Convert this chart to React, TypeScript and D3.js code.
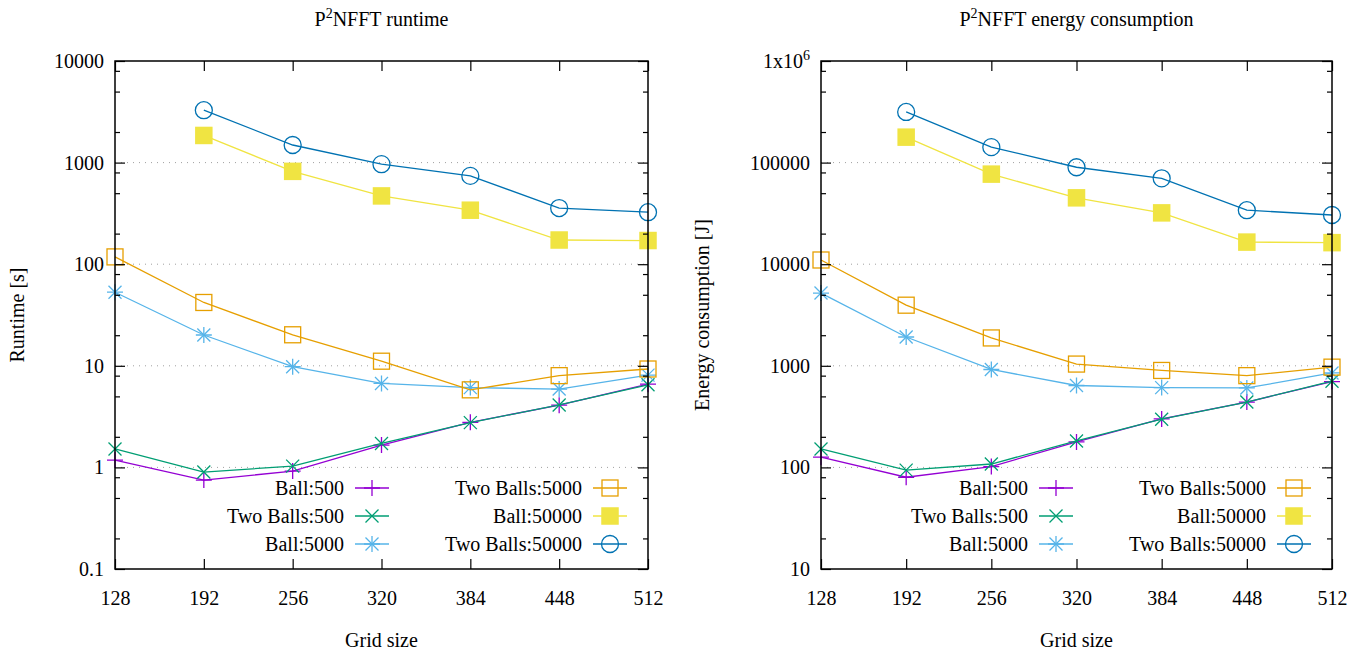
import React, { useEffect, useRef } from "react";
import * as d3 from "d3";

// x axis: grid size
const gridSizes = [128, 192, 256, 320, 384, 448, 512];

const seriesNames = ["Ball:500", "Two Balls:500", "Ball:5000", "Two Balls:5000", "Ball:50000", "Two Balls:50000"];
const seriesColors = ["#9400d3", "#009e73", "#56b4e9", "#e69f00", "#f0e442", "#0072b2"];
const seriesMarkers = ["plus", "cross", "star", "square", "filledSquare", "circle"];

// runtime [s]
const runtimeBall500 = [1.18, 0.75, 0.92, 1.66, 2.78, 4.1, 6.6];
const runtimeTwoBalls500 = [1.52, 0.9, 1.03, 1.72, 2.76, 4.12, 6.5];
const runtimeBall5000 = [53, 20.1, 9.8, 6.7, 6.1, 5.9, 8.1];
const runtimeTwoBalls5000 = [118, 42, 20.2, 11.1, 5.8, 8.0, 9.3];
const runtimeBall50000 = [null, 1850, 820, 470, 340, 173, 171];
const runtimeTwoBalls50000 = [null, 3280, 1490, 965, 740, 357, 325];

// energy consumption [J]
const energyBall500 = [126, 80, 102, 178, 300, 440, 700];
const energyTwoBalls500 = [152, 94, 108, 182, 298, 440, 705];
const energyBall5000 = [5200, 1920, 920, 640, 610, 605, 850];
const energyTwoBalls5000 = [11000, 3950, 1880, 1040, 900, 800, 970];
const energyBall50000 = [null, 178000, 77000, 45000, 32000, 16500, 16300];
const energyTwoBalls50000 = [null, 315000, 142000, 90000, 70000, 34000, 30500];

const runtimeTicks = [0.1, 1, 10, 100, 1000, 10000];
const runtimeTickLabels = ["0.1", "1", "10", "100", "1000", "10000"];
const energyTicks = [10, 100, 1000, 10000, 100000, 1000000];
const energyTickLabels = ["10", "100", "1000", "10000", "100000", "1x10^6"];

const FONT = "'Liberation Serif', 'Times New Roman', serif";

type Panel = {
  left: number;
  right: number;
  title: string;
  yLabel: string;
  yLabelX: number;
  ticks: number[];
  tickLabels: string[];
  series: (number | null)[][];
};

const panels: Panel[] = [
  {
    left: 115,
    right: 648,
    title: "runtime",
    yLabel: "Runtime [s]",
    yLabelX: 17,
    ticks: runtimeTicks,
    tickLabels: runtimeTickLabels,
    series: [runtimeBall500, runtimeTwoBalls500, runtimeBall5000, runtimeTwoBalls5000, runtimeBall50000, runtimeTwoBalls50000],
  },
  {
    left: 821,
    right: 1332,
    title: "energy consumption",
    yLabel: "Energy consumption [J]",
    yLabelX: 702,
    ticks: energyTicks,
    tickLabels: energyTickLabels,
    series: [energyBall500, energyTwoBalls500, energyBall5000, energyTwoBalls5000, energyBall50000, energyTwoBalls50000],
  },
];

const TOP = 61;
const BOTTOM = 569;

function drawMarker(g: any, type: string, color: string, x: number, y: number) {
  const s = 8;
  const c = 6.5;
  const sw = 1.3;
  if (type === "plus" || type === "star") {
    g.append("path").attr("d", `M${x - s},${y}H${x + s}M${x},${y - s}V${y + s}`)
      .attr("stroke", color).attr("stroke-width", sw).attr("fill", "none");
  }
  if (type === "cross" || type === "star") {
    g.append("path").attr("d", `M${x - c},${y - c}L${x + c},${y + c}M${x - c},${y + c}L${x + c},${y - c}`)
      .attr("stroke", color).attr("stroke-width", sw).attr("fill", "none");
  }
  if (type === "square") {
    g.append("rect").attr("x", x - 8).attr("y", y - 8).attr("width", 16).attr("height", 16)
      .attr("stroke", color).attr("stroke-width", sw).attr("fill", "none");
  }
  if (type === "filledSquare") {
    g.append("rect").attr("x", x - 8.75).attr("y", y - 8.75).attr("width", 17.5).attr("height", 17.5)
      .attr("fill", color);
  }
  if (type === "circle") {
    g.append("circle").attr("cx", x).attr("cy", y).attr("r", 8.5)
      .attr("stroke", color).attr("stroke-width", sw).attr("fill", "none");
  }
}

const App = () => {
  const svgRef = useRef<SVGSVGElement>(null);

  useEffect(() => {
    document.body.style.margin = "0";
    const svg = d3.select(svgRef.current);
    svg.selectAll("*").remove();

    panels.forEach((p) => {
      const g = svg.append("g");
      const x = d3.scaleLinear().domain([128, 512]).range([p.left, p.right]);
      const y = d3.scaleLog()
        .domain([p.ticks[0], p.ticks[p.ticks.length - 1]])
        .range([BOTTOM, TOP]);

      // minor ticks at 2, 5, 8 of each decade
      const minors: number[] = [];
      p.ticks.slice(0, -1).forEach((t) => [2, 5, 8].forEach((m) => minors.push(t * m)));

      // grid
      g.append("g")
        .selectAll("line")
        .data(p.ticks.slice(1, -1))
        .join("line")
        .attr("x1", p.left)
        .attr("x2", p.right)
        .attr("y1", (d) => y(d))
        .attr("y2", (d) => y(d))
        .attr("stroke", "#a0a0a0")
        .attr("stroke-width", 1)
        .attr("stroke-dasharray", "1,5");

      // data
      const line = d3.line<number | null>()
        .defined((d) => d !== null)
        .x((_, i) => x(gridSizes[i]))
        .y((d) => y(d as number));

      p.series.forEach((vals, si) => {
        const color = seriesColors[si];
        g.append("path")
          .datum(vals)
          .attr("fill", "none")
          .attr("stroke", color)
          .attr("stroke-width", 1.3)
          .attr("d", line);
        vals.forEach((v, i) => {
          if (v === null) return;
          drawMarker(g, seriesMarkers[si], color, x(gridSizes[i]), y(v));
        });
      });

      // legend
      const rightColX = p.right - 38;
      const leftColX = rightColX - 238;
      const rowY = [BOTTOM - 81, BOTTOM - 53, BOTTOM - 25];
      seriesNames.forEach((name, si) => {
        const mx = si < 3 ? leftColX : rightColX;
        const my = rowY[si % 3];
        const color = seriesColors[si];
        g.append("text")
          .attr("x", mx - 28)
          .attr("y", my)
          .attr("dy", "0.35em")
          .attr("text-anchor", "end")
          .attr("font-family", FONT)
          .attr("font-size", 20)
          .text(name);
        g.append("line")
          .attr("x1", mx - 17)
          .attr("x2", mx + 17)
          .attr("y1", my)
          .attr("y2", my)
          .attr("stroke", color)
          .attr("stroke-width", 1.3);
        drawMarker(g, seriesMarkers[si], color, mx, my);
      });

      // axes
      const styleAxis = (sel: any) => {
        sel.select(".domain").remove();
        sel.attr("font-family", FONT).attr("font-size", 20);
        sel.selectAll("line").attr("stroke", "#000").attr("stroke-width", 1.2);
        sel.selectAll("text").attr("fill", "#000");
      };

      const yLeft = g.append("g")
        .attr("transform", `translate(${p.left},0)`)
        .call(d3.axisLeft(y).tickValues(p.ticks).tickSize(-10).tickPadding(11)
          .tickFormat((_, i) => p.tickLabels[i]));
      styleAxis(yLeft);
      yLeft.selectAll("text").each(function (this: any) {
        const t = d3.select(this);
        const label = t.text();
        if (label.includes("^")) {
          const [base, exp] = label.split("^");
          t.text(null);
          t.append("tspan").text(base);
          t.append("tspan").attr("font-size", 14).attr("dy", "-0.6em").text(exp);
        }
      });

      styleAxis(g.append("g")
        .attr("transform", `translate(${p.right},0)`)
        .call(d3.axisRight(y).tickValues(p.ticks).tickSize(-10).tickFormat(() => "")));
      styleAxis(g.append("g")
        .attr("transform", `translate(${p.left},0)`)
        .call(d3.axisLeft(y).tickValues(minors).tickSize(-5).tickFormat(() => "")));
      styleAxis(g.append("g")
        .attr("transform", `translate(${p.right},0)`)
        .call(d3.axisRight(y).tickValues(minors).tickSize(-5).tickFormat(() => "")));

      styleAxis(g.append("g")
        .attr("transform", `translate(0,${BOTTOM})`)
        .call(d3.axisBottom(x).tickValues(gridSizes).tickSize(-10).tickPadding(22)
          .tickFormat((d) => String(d))));
      styleAxis(g.append("g")
        .attr("transform", `translate(0,${TOP})`)
        .call(d3.axisTop(x).tickValues(gridSizes).tickSize(-10).tickFormat(() => "")));

      // frame
      g.append("rect")
        .attr("x", p.left)
        .attr("y", TOP)
        .attr("width", p.right - p.left)
        .attr("height", BOTTOM - TOP)
        .attr("fill", "none")
        .attr("stroke", "#000")
        .attr("stroke-width", 1.5);

      // title
      const title = g.append("text")
        .attr("x", (p.left + p.right) / 2)
        .attr("y", 26)
        .attr("text-anchor", "middle")
        .attr("font-family", FONT)
        .attr("font-size", 20);
      title.append("tspan").text("P");
      title.append("tspan").attr("font-size", 14).attr("dy", -8).text("2");
      title.append("tspan").attr("dy", 8).text(`NFFT ${p.title}`);

      // axis labels
      g.append("text")
        .attr("x", (p.left + p.right) / 2)
        .attr("y", 647)
        .attr("text-anchor", "middle")
        .attr("font-family", FONT)
        .attr("font-size", 20)
        .text("Grid size");
      g.append("text")
        .attr("transform", `translate(${p.yLabelX},${(TOP + BOTTOM) / 2}) rotate(-90)`)
        .attr("dy", "0.35em")
        .attr("text-anchor", "middle")
        .attr("font-family", FONT)
        .attr("font-size", 20)
        .text(p.yLabel);
    });
  }, []);

  return <svg ref={svgRef} width={1367} height={654} style={{ display: "block", background: "#fff" }} />;
};

export default App;
